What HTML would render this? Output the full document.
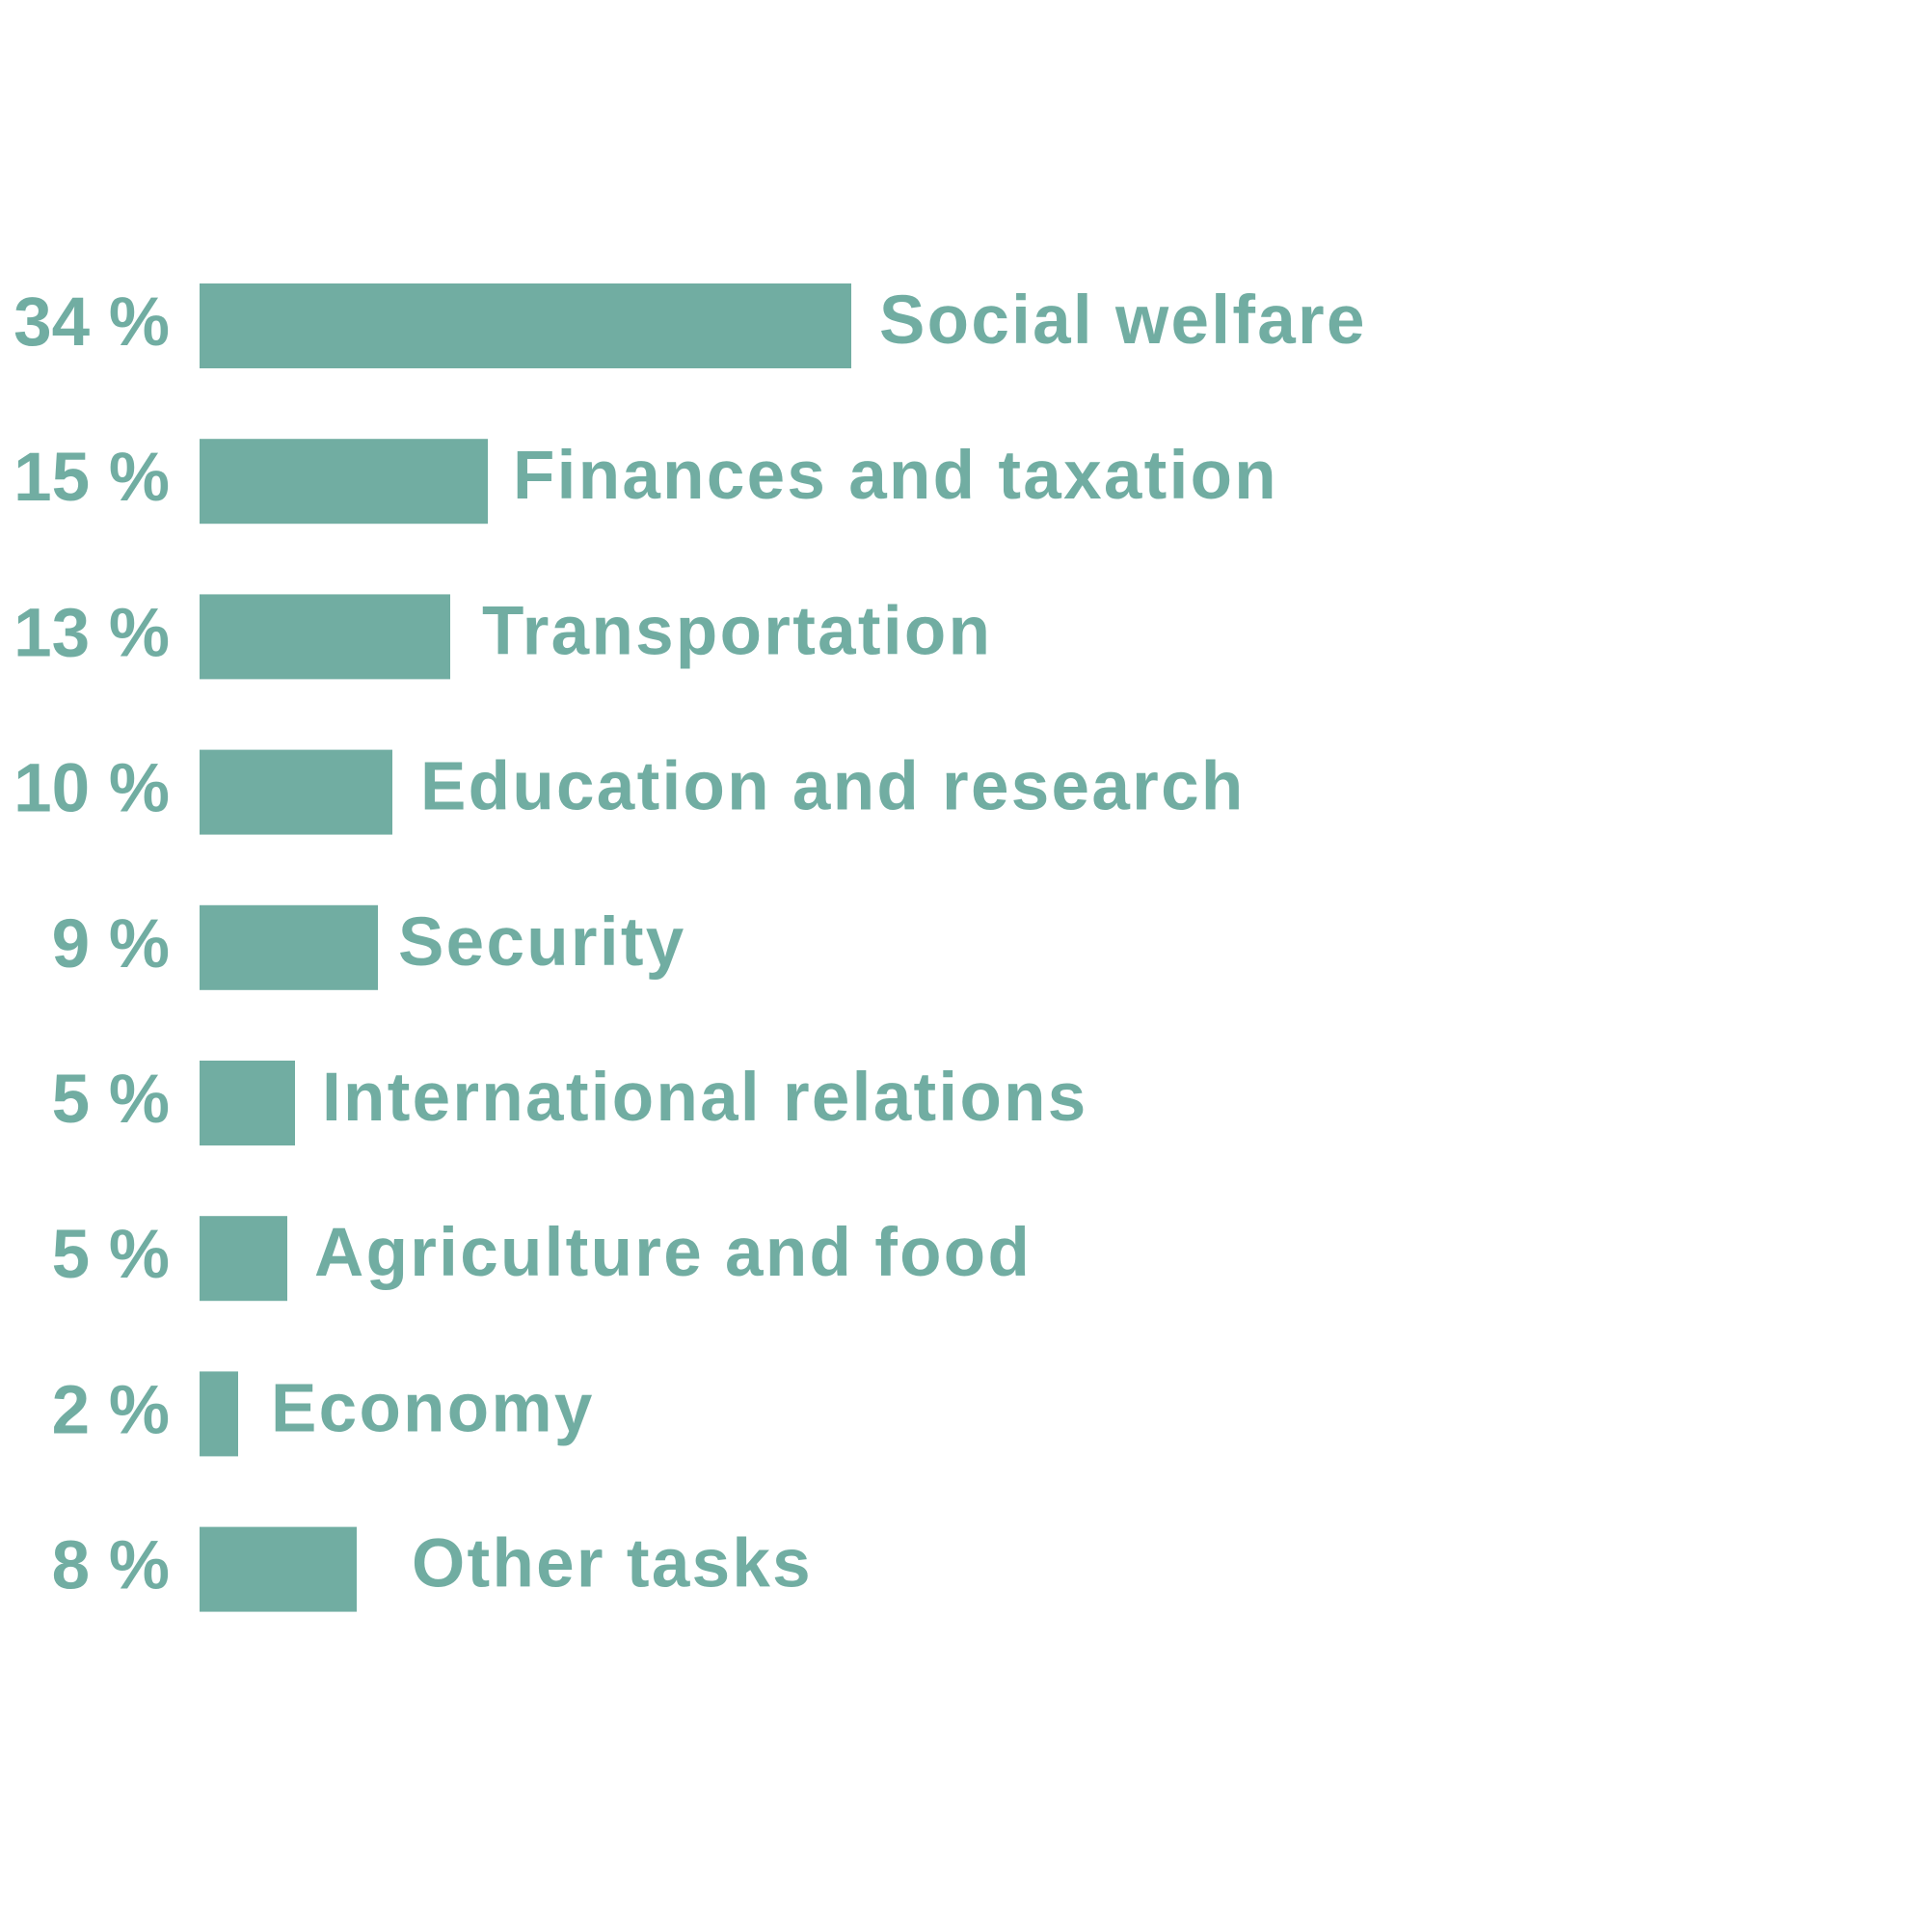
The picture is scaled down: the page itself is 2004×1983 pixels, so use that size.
<!DOCTYPE html>
<html><head><meta charset="utf-8"><style>
html,body{margin:0;padding:0;background:#fff;}
svg{display:block;}
text{font-family:"Liberation Sans",Arial,sans-serif;font-weight:bold;font-size:71px;fill:#71ada2;}
.lbl{letter-spacing:2.3px;}
</style></head><body>
<svg width="2004" height="1983" viewBox="0 0 2004 1983" xmlns="http://www.w3.org/2000/svg">
<rect width="2004" height="1983" fill="#fff"/>
<g fill="#71ada2">
<rect x="207" y="294" width="676" height="88"/>
<rect x="207" y="455.2" width="299" height="88"/>
<rect x="207" y="616.4" width="260" height="88"/>
<rect x="207" y="777.6" width="200" height="88"/>
<rect x="207" y="938.8" width="185" height="88"/>
<rect x="207" y="1100" width="99" height="88"/>
<rect x="207" y="1261.2" width="91" height="88"/>
<rect x="207" y="1422.4" width="40" height="88"/>
<rect x="207" y="1583.6" width="163" height="88"/>
</g>
<g text-anchor="end">
<text x="176" y="358">34 %</text>
<text x="176" y="519.2">15 %</text>
<text x="176" y="680.4">13 %</text>
<text x="176" y="841.6">10 %</text>
<text x="176" y="1002.8">9 %</text>
<text x="176" y="1164">5 %</text>
<text x="176" y="1325.2">5 %</text>
<text x="176" y="1486.4">2 %</text>
<text x="176" y="1647.6">8 %</text>
</g>
<g class="lbl">
<text class="lbl" x="912" y="356">Social welfare</text>
<text class="lbl" x="532" y="517.2">Finances and taxation</text>
<text class="lbl" x="500" y="678.4">Transportation</text>
<text class="lbl" x="436" y="839.6">Education and research</text>
<text class="lbl" x="413" y="1000.8">Security</text>
<text class="lbl" x="334" y="1162">International relations</text>
<text class="lbl" x="326" y="1323.2">Agriculture and food</text>
<text class="lbl" x="281" y="1484.4">Economy</text>
<text class="lbl" x="427" y="1645.6">Other tasks</text>
</g>
</svg>
</body></html>
